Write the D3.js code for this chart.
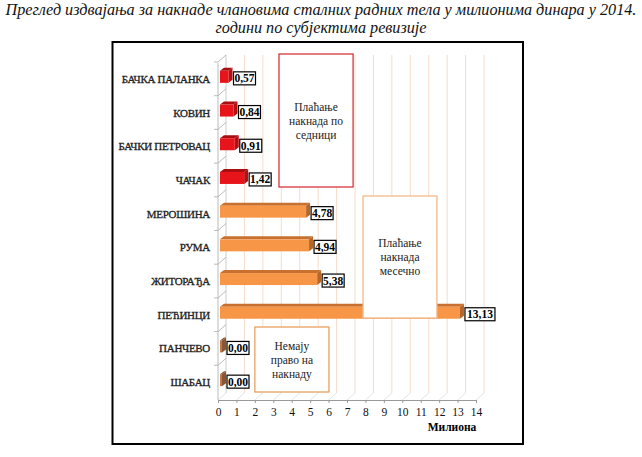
<!DOCTYPE html>
<html><head><meta charset="utf-8">
<script src="https://cdn.jsdelivr.net/npm/d3@7"></script>
<style>body{margin:0;background:#fff}svg{display:block}svg text{font-family:"Liberation Serif","Times New Roman","DejaVu Serif",serif}</style>
</head><body>
<script>
const titleLines = ["Преглед издвајања за накнаде члановима сталних радних тела у милионима динара у 2014.", "години по субјектима ревизије"];
const categories = ["БАЧКА ПАЛАНКА","КОВИН","БАЧКИ ПЕТРОВАЦ","ЧАЧАК","МЕРОШИНА","РУМА","ЖИТОРАЂА","ПЕЋИНЦИ","ПАНЧЕВО","ШАБАЦ"];
const values = [0.57,0.84,0.91,1.42,4.78,4.94,5.38,13.13,0,0];
const groups = ["seat","seat","seat","seat","month","month","month","month","none","none"];
const xTicks = d3.range(0,15);
const axisTitle = "Милиона";
const noteSeat = ["Плаћање","накнада по","седници"];
const noteMonth = ["Плаћање","накнада","месечно"];
const noteNone = ["Немају","право на","накнаду"];

const W=642,H=457;
const svg=d3.select("body").append("svg").attr("width",W).attr("height",H);
const serif='"Liberation Serif","Times New Roman","DejaVu Serif",serif';

// title
svg.append("g").selectAll("text").data(titleLines).join("text")
  .attr("x",321).attr("y",(d,i)=>15+i*18).attr("text-anchor","middle")
  .style("font-family",serif).attr("font-style","italic").attr("font-size",16.2)
  .attr("fill","#111").text(d=>d);

// frame
svg.append("rect").attr("x",112.5).attr("y",42).attr("width",410.5).attr("height",402)
  .attr("fill","none").attr("stroke","#000").attr("stroke-width",2);

const x=d3.scaleLinear().domain([0,14]).range([218,476]);
const y=d3.scaleBand().domain(categories).range([62,399]);
const DX=8,DY=-7; // 3d depth
const yBottom=400, yTop=55;

// gridlines on back wall
const g=svg.append("g");
g.selectAll("line.grid").data(xTicks.slice(1)).join("line")
  .attr("x1",d=>x(d)+DX).attr("x2",d=>x(d)+DX).attr("y1",yTop).attr("y2",yBottom+DY)
  .attr("stroke","#f6dccb").attr("stroke-width",1);
// floor diagonals
g.selectAll("line.floor").data(xTicks).join("line")
  .attr("x1",d=>x(d)).attr("x2",d=>x(d)+DX).attr("y1",yBottom).attr("y2",yBottom+DY)
  .attr("stroke","#ddd").attr("stroke-width",0.8);
// left wall
g.append("line").attr("x1",x(0)+DX).attr("x2",x(0)+DX).attr("y1",yTop).attr("y2",yBottom+DY).attr("stroke","#ccc");
g.append("line").attr("x1",x(0)).attr("x2",x(0)).attr("y1",yTop+8).attr("y2",yBottom).attr("stroke","#bbb");
g.selectAll("path.wt").data(categories).join("path")
  .attr("d",d=>{const yy=y(d);return `M${x(0)-4},${yy} L${x(0)},${yy} L${x(0)+DX},${yy+DY}`;})
  .attr("fill","none").attr("stroke","#aaa").attr("stroke-width",0.8);

// x axis
const ax=svg.append("g").attr("transform",`translate(0,${yBottom})`)
  .call(d3.axisBottom(x).tickValues(xTicks).tickSize(3).tickFormat(d3.format("d")));
ax.attr("font-family",null);
ax.select(".domain").attr("stroke","#999");
ax.selectAll(".tick line").attr("stroke","#999");
ax.selectAll("text").style("font-family",serif).attr("font-size",11.5).attr("fill","#111").attr("dy","0.9em");
svg.append("text").attr("x",452).attr("y",431).attr("text-anchor","middle")
  .style("font-family",serif).attr("font-weight","bold").attr("font-size",11.5).text(axisTitle);

// category labels
svg.append("g").selectAll("text").data(categories).join("text")
  .attr("x",210).attr("y",d=>y(d)+y.bandwidth()/2+4).attr("text-anchor","end")
  .style("font-family",serif).attr("font-size",11).attr("letter-spacing","-0.3")
  .attr("fill","#222").attr("stroke","#222").attr("stroke-width",0.3).text(d=>d);

// bars
const col={seat:{front:"#e8141b",top:"#a80d10",side:"#b40f12"},
           month:{front:"#f79646",top:"#c7702f",side:"#b5662b"},
           none:{front:"#c07a4a",top:"#8a5530",side:"#8a5530"}};
const bh=12, d3x=4, d3y=-3;
const data=categories.map((c,i)=>({c,v:values[i],grp:groups[i]}));
const bars=svg.append("g").selectAll("g").data(data).join("g");
bars.each(function(d){
  const s=d3.select(this);
  const yc=y(d.c)+y.bandwidth()/2-2;
  const x0=x(0)+2, x1=Math.max(x(d.v), x0+2);
  const t=yc-bh/2;
  const c=col[d.grp];
  s.append("path").attr("d",`M${x0},${t} L${x0+d3x},${t+d3y} L${x1+d3x},${t+d3y} L${x1},${t}Z`).attr("fill",c.top);
  s.append("path").attr("d",`M${x1},${t} L${x1+d3x},${t+d3y} L${x1+d3x},${t+bh+d3y} L${x1},${t+bh}Z`).attr("fill",c.side);
  s.append("rect").attr("x",x0).attr("y",t).attr("width",x1-x0).attr("height",bh).attr("fill",c.front);
  // value label
  const lbl=d3.format(".2f")(d.v).replace(".",",");
  const lx=x1+d3x+1, lw=lbl.length>4?30:22;
  s.append("rect").attr("x",lx).attr("y",yc-5).attr("width",lw).attr("height",13)
    .attr("fill","#fff").attr("stroke","#000").attr("stroke-width",1.2);
  s.append("text").attr("x",lx+lw/2).attr("y",yc+5.5).attr("text-anchor","middle")
    .style("font-family",serif).attr("font-weight","bold").attr("font-size",11.5).text(lbl);
});

// notes
function note(lines,xa,xb,ya,yb,stroke){
  const gg=svg.append("g");
  gg.append("rect").attr("x",x(xa)).attr("y",ya).attr("width",x(xb)-x(xa)).attr("height",yb-ya)
    .attr("fill","#fff").attr("stroke",stroke).attr("stroke-width",1.3);
  const cy=(ya+yb)/2, cx=(x(xa)+x(xb))/2;
  gg.selectAll("text").data(lines).join("text").attr("x",cx)
    .attr("y",(d,i)=>cy+(i-(lines.length-1)/2)*14+4).attr("text-anchor","middle")
    .style("font-family",serif).attr("font-size",11.5).attr("fill","#222").text(d=>d);
}
note(noteSeat,3.31,7.33,54,187,"#d9363c");
note(noteMonth,7.87,11.88,196,318,"#f2b98a");
note(noteNone,2.0,6.02,327,392,"#e8a060");
</script>
</body></html>
